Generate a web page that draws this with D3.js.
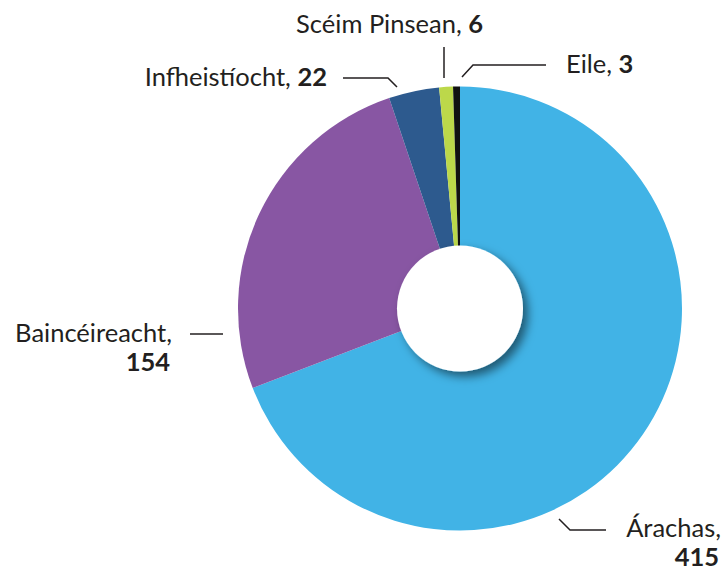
<!DOCTYPE html>
<html>
<head>
<meta charset="utf-8">
<script src="https://cdn.jsdelivr.net/npm/d3@7"></script>
<style>
  html, body { margin: 0; padding: 0; background: #fff; }
  svg text { font-family: Lato, "Open Sans", sans-serif; font-size: 25.5px; fill: #231f20; }
</style>
</head>
<body>
<div id="chart"></div>
<script>
// Chart data
const categories = ['Árachas', 'Baincéireacht', 'Infheistíocht', 'Scéim Pinsean', 'Eile'];
const values = [415, 154, 22, 6, 3];
const colors = ['#41b3e6', '#8856a3', '#2d5a8e', '#bcd84a', '#111111'];

const width = 724, height = 570;
const cx = 460, cy = 308.5;
const outerR = 222, innerR = 63;

// label layout: text anchor position, leader polyline, one or two lines
const labelLayout = [
  { x: 721, y: 537, anchor: 'end', twoLine: true, pts: [[559, 519], [570, 530], [606, 530]] },
  { x: 172, y: 342, anchor: 'end', twoLine: true, pts: [[190, 334], [223, 334]] },
  { x: 327, y: 86, anchor: 'end', twoLine: false, pts: [[343, 78], [388, 78], [397, 87]] },
  { x: 483, y: 33, anchor: 'end', twoLine: false, pts: [[444, 47], [444, 78]] },
  { x: 566, y: 73, anchor: 'start', twoLine: false, pts: [[462, 77], [473, 65], [546, 65]] }
];

const svg = d3.select('#chart')
  .append('svg')
  .attr('width', width)
  .attr('height', height);

const defs = svg.append('defs');
const shadow = defs.append('filter')
  .attr('id', 'holeShadow')
  .attr('x', '-50%').attr('y', '-50%')
  .attr('width', '200%').attr('height', '200%');
shadow.append('feDropShadow')
  .attr('dx', 5).attr('dy', 5)
  .attr('stdDeviation', 5)
  .attr('flood-color', '#000')
  .attr('flood-opacity', 0.5);

const data = categories.map((c, i) => ({ name: c, value: values[i], color: colors[i] }));

const pie = d3.pie().value(d => d.value).sort(null);
const arc = d3.arc().innerRadius(0).outerRadius(outerR);

const g = svg.append('g').attr('transform', `translate(${cx},${cy})`);

g.selectAll('path.slice')
  .data(pie(data))
  .join('path')
  .attr('class', 'slice')
  .attr('d', arc)
  .attr('fill', d => d.data.color);

// white centre with shadow
g.append('circle')
  .attr('r', innerR)
  .attr('fill', '#fff')
  .attr('filter', 'url(#holeShadow)');

// leader lines
const line = d3.line();
svg.selectAll('path.leader')
  .data(labelLayout)
  .join('path')
  .attr('class', 'leader')
  .attr('d', d => line(d.pts))
  .attr('fill', 'none')
  .attr('stroke', '#231f20')
  .attr('stroke-width', 1.5);

// labels
data.forEach((d, i) => {
  const L = labelLayout[i];
  const t = svg.append('text')
    .attr('x', L.x)
    .attr('y', L.y)
    .attr('text-anchor', L.anchor);
  if (L.twoLine) {
    t.append('tspan').text(d.name + ',');
    svg.append('text')
      .attr('x', L.x - 2)
      .attr('y', L.y + 29)
      .attr('text-anchor', 'end')
      .attr('font-weight', 'bold')
      .text(d.value);
  } else {
    t.append('tspan').text(d.name + ', ');
    t.append('tspan').attr('font-weight', 'bold').text(d.value);
  }
});
</script>
</body>
</html>
